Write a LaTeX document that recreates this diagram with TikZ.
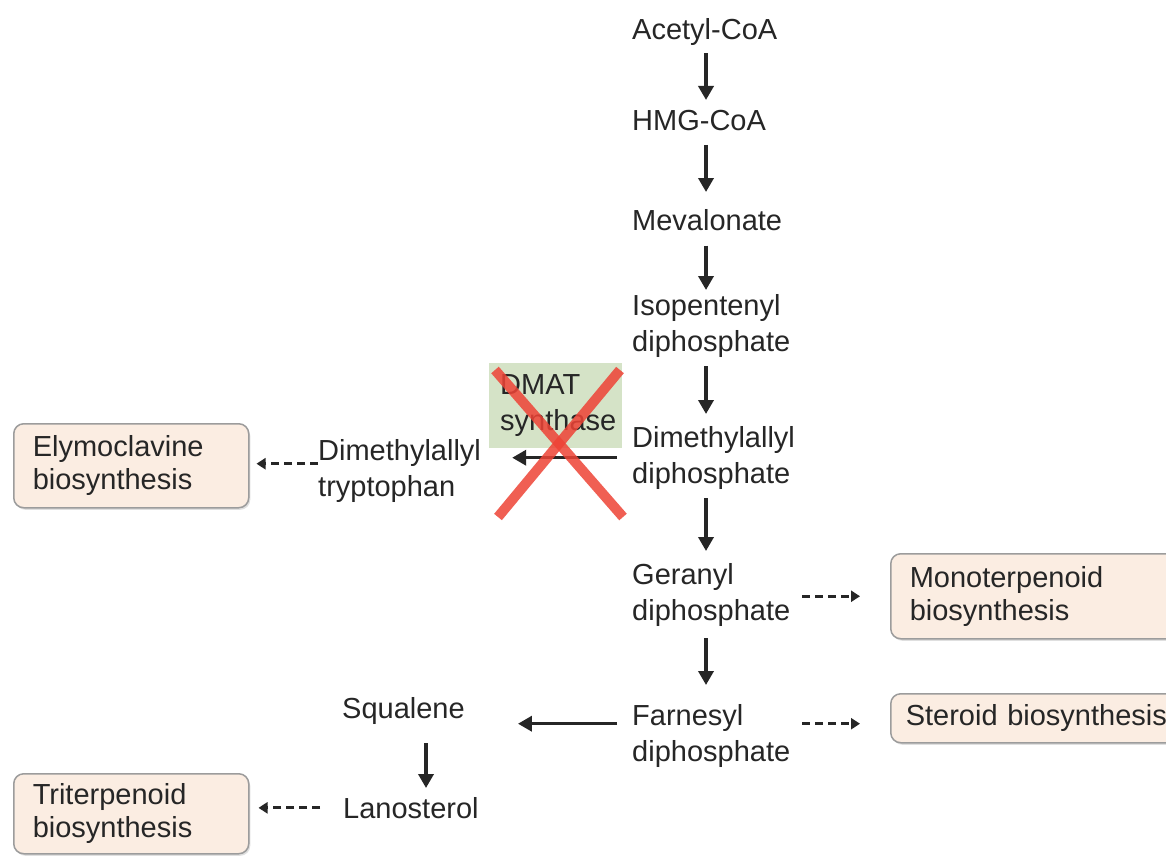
\documentclass[tikz,border=0pt]{standalone}
\usepackage{fontspec}
\setmainfont{Liberation Sans}
\usetikzlibrary{arrows.meta,shadows}

\definecolor{txtgray}{HTML}{262626}
\definecolor{boxfill}{HTML}{FBEDE2}
\definecolor{boxline}{HTML}{9C9C9C}
\definecolor{dmatgreen}{HTML}{D5E3C7}
\definecolor{crossred}{HTML}{EE4336}

\tikzset{
  metab/.style={anchor=north west, inner sep=0pt, align=left, text=txtgray,
    font=\fontsize{29}{36}\selectfont},
  pathway/.style={anchor=north west, draw=boxline, line width=1.5pt, fill=boxfill,
    rounded corners=10pt, align=left, text=txtgray, inner xsep=19pt, inner ysep=0pt,
    font=\fontsize{29}{33}\selectfont,
    drop shadow={opacity=0.25, shadow xshift=1.5pt, shadow yshift=-2pt}},
  dmatbox/.style={anchor=north west, fill=dmatgreen, inner xsep=11pt, inner ysep=0pt,
    align=left, text=txtgray, font=\fontsize{29}{36}\selectfont},
  reaction/.style={-{Triangle[width=15pt,length=14pt]}, line width=3.5pt, txtgray},
  dashlink/.style={-{Triangle[width=11pt,length=9pt]}, line width=3pt,
    dash pattern=on 8pt off 5pt, txtgray},
}

\begin{document}
\begin{tikzpicture}[x=1pt,y=-1pt]

    % Page frame
    \clip (0,0) rectangle (1166,856);
    \fill[white] (0,0) rectangle (1166,856);

    % Columns of the vertical arrows
    \coordinate (col) at (706,0);
    \coordinate (col2) at (426,0);

    % Main pathway
    \node[metab] (acetyl) at (632,18) {Acetyl-CoA};
    \node[metab] (hmg) at (632,110) {HMG-CoA};
    \node[metab] (meval) at (632,209) {Mevalonate};
    \node[metab] (isopent) at (632,294) {Isopentenyl\\diphosphate};
    \node[metab] (dimeth) at (632,426) {Dimethylallyl\\diphosphate};
    \node[metab] (geranyl) at (632,563) {Geranyl\\diphosphate};
    \node[metab] (farnesyl) at (632,704) {Farnesyl\\diphosphate};

    % Side branches
    \node[metab] (dmatrp) at (318,439) {Dimethylallyl\\tryptophan};
    \node[metab] (squalene) at (342,697) {Squalene};
    \node[metab] (lanost) at (343,797) {Lanosterol};

    % Downstream pathways
    \node[pathway, minimum width=235pt, minimum height=84pt, text width=197pt] (elymo) at (13,423) {Elymoclavine\\biosynthesis};
    \node[pathway, minimum width=300pt, minimum height=85pt, text width=262pt] (mono) at (890,553) {Monoterpenoid\\biosynthesis};
    \node[pathway, minimum width=300pt, minimum height=49pt, text width=270pt, inner xsep=10pt] (steroid) at (890,693) {Steroid biosynthesis};
    \node[pathway, minimum width=235pt, minimum height=80pt, text width=197pt] (triterp) at (13,773) {Triterpenoid\\biosynthesis};

    % Enzyme
    \node[dmatbox, minimum width=133pt, minimum height=85pt, text width=111pt] (dmat) at (489,363) {DMAT\\synthase};

    % Solid arrows
    \draw[reaction, shorten <=8pt, shorten >=10pt] (acetyl.south -| col) -- (hmg.north -| col);
    \draw[reaction, shorten <=14pt, shorten >=17pt] (hmg.south -| col) -- (meval.north -| col);
    \draw[reaction, shorten <=15pt, shorten >=4pt] (meval.south -| col) -- (isopent.north -| col);
    \draw[reaction, shorten <=9pt, shorten >=12pt] (isopent.south -| col) -- (dimeth.north -| col);
    \draw[reaction, shorten <=9pt, shorten >=12pt] (dimeth.south -| col) -- (geranyl.north -| col);
    \draw[reaction, shorten <=12pt, shorten >=19pt] (geranyl.south -| col) -- (farnesyl.north -| col);
    \draw[reaction, shorten <=15pt, shorten >=31pt] (dimeth.west) -- (dimeth.west -| dmatrp.east);
    \draw[reaction, shorten <=15pt, shorten >=53pt] ([yshift=12pt]farnesyl.west) -- ([yshift=12pt]farnesyl.west -| squalene.east);
    \draw[reaction, shorten <=19pt, shorten >=9pt] (squalene.south -| col2) -- (lanost.north -| col2);

    % Dashed arrows
    \draw[dashlink, shorten >=7pt] ([yshift=7pt]dmatrp.west) -- ([yshift=7pt]dmatrp.west -| elymo.east);
    \draw[dashlink, shorten <=12pt, shorten >=30pt] (geranyl.east |- mono.west) -- (mono.west);
    \draw[dashlink, shorten <=12pt, shorten >=30pt] ([yshift=12pt]farnesyl.east) -- ([yshift=12pt]farnesyl.east -| steroid.west);
    \draw[dashlink, shorten <=23pt, shorten >=9pt] (lanost.west) -- (lanost.west -| triterp.east);

    % Blocked step
    \draw[crossred, line width=10pt, opacity=0.85] (495,370) -- (623,517);
    \draw[crossred, line width=10pt, opacity=0.85] (620,370) -- (498,517);

\end{tikzpicture}
\end{document}
